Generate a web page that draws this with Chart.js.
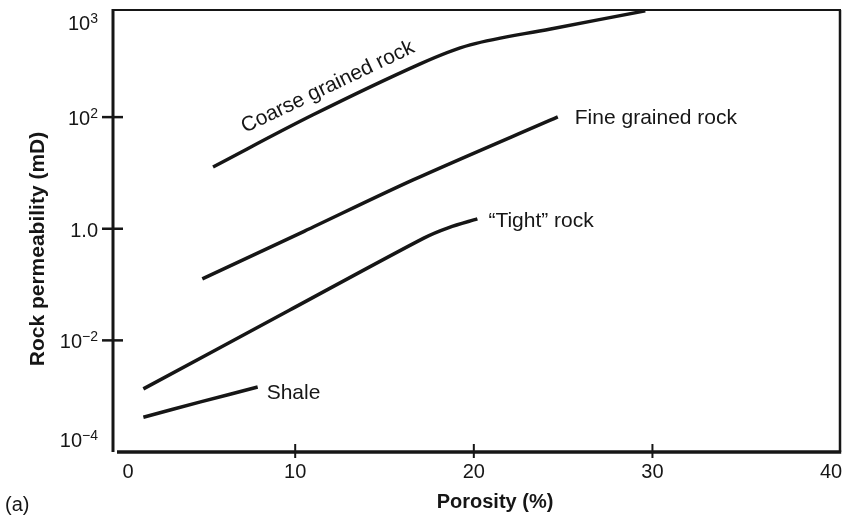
<!DOCTYPE html>
<html><head><meta charset="utf-8">
<script src="https://cdn.jsdelivr.net/npm/chart.js@4.4.1/dist/chart.umd.min.js"></script>
<style>html,body{margin:0;padding:0;background:#fff;}#wrap{width:850px;height:519px;position:relative;}</style>
</head><body><div id="wrap"><canvas id="c"></canvas></div>
<script>
// ---- data ----
const seriesNames = ["Coarse grained rock", "Fine grained rock", "\u201cTight\u201d rock", "Shale"];
const coarseX = [5.4, 11.0, 17.0, 19.8, 24.3, 29.6];
const coarseY = [12.8, 110, 900, 1970, 3800, 8000];
const fineX = [4.8, 10.5, 16.6, 24.7];
const fineY = [0.126, 0.9, 7.5, 101];
const tightX = [1.5, 9.7, 17.2, 18.6, 20.2];
const tightY = [0.00135, 0.035, 0.68, 1.05, 1.5];
const shaleX = [1.5, 4.7, 7.9];
const shaleY = [0.00042, 0.00079, 0.00146];
const xTickValues = [0, 10, 20, 30, 40];
const xTickLabels = ["0", "10", "20", "30", "40"];
const xMarkValues = [10, 20, 30];
const Y_MIN = 1e-4, Y_MAX = 8300, X_MIN = -0.2, X_MAX = 40.5;
const yTickValues = [1e-4, 1e-2, 1, 1e2, Y_MAX];
const yTickBase = ["10", "10", "1.0", "10", "10"];
const yTickExp = ["\u22124", "\u22122", "", "2", "3"];
const yMarkValues = [1e-2, 1, 1e2];
const xTitle = "Porosity (%)";
const yTitle = "Rock permeability (mD)";
const panelLabel = "(a)";

const FONT = "'Liberation Sans', Arial, Helvetica, sans-serif";
const INK = '#161616';
const toPts = (xs, ys) => xs.map((v, i) => ({x: v, y: ys[i]}));

const overlay = {
  id: 'overlay',
  afterDatasetsDraw(chart) {
    const {ctx, chartArea: a, scales: {x, y}} = chart;
    ctx.save();
    ctx.strokeStyle = INK; ctx.fillStyle = INK; ctx.lineCap = 'butt';
    const seg = (x1, y1, x2, y2, w) => { ctx.lineWidth = w; ctx.beginPath(); ctx.moveTo(x1, y1); ctx.lineTo(x2, y2); ctx.stroke(); };
    // frame
    seg(a.left, a.top, a.right + 1, a.top, 2);
    seg(a.right, a.top, a.right, a.bottom, 2.5);
    seg(a.left, a.top - 1, a.left, a.bottom, 3);
    seg(a.left + 4, a.bottom, a.right + 1.2, a.bottom, 3.5);
    // tick marks crossing the axes
    yMarkValues.forEach(v => { const p = y.getPixelForValue(v); seg(a.left - 11, p, a.left + 10, p, 2.5); });
    xMarkValues.forEach(v => { const p = x.getPixelForValue(v); seg(p, a.bottom - 8, p, a.bottom + 6, 2); });
    // y tick labels (with superscripts)
    ctx.textBaseline = 'alphabetic';
    yTickValues.forEach((v, i) => {
      let p = y.getPixelForValue(v);
      let base;
      if (p <= a.top + 1) base = a.top + 20;
      else if (p >= a.bottom - 1) base = a.bottom - 5;
      else base = p + 8;
      ctx.font = '20px ' + FONT;
      const wb = ctx.measureText(yTickBase[i]).width;
      ctx.font = '14px ' + FONT;
      const we = yTickExp[i] ? ctx.measureText(yTickExp[i]).width : 0;
      const right = a.left - 15;
      const left = right - wb - we;
      ctx.textAlign = 'left';
      ctx.font = '20px ' + FONT;
      ctx.fillText(yTickBase[i], left, base);
      if (yTickExp[i]) { ctx.font = '14px ' + FONT; ctx.fillText(yTickExp[i], left + wb, base - 7.5); }
    });
    // x tick labels
    ctx.font = '20px ' + FONT; ctx.textAlign = 'center';
    xTickValues.forEach((v, i) => {
      const p = Math.max(x.getPixelForValue(v), a.left + 15);
      ctx.fillText(xTickLabels[i], p, a.bottom + 26);
    });
    // axis titles
    ctx.font = 'bold 20px ' + FONT; ctx.textAlign = 'center'; ctx.textBaseline = 'middle';
    ctx.fillText(xTitle, 495, 502);
    ctx.font = 'bold 21px ' + FONT;
    ctx.save(); ctx.translate(38, 249); ctx.rotate(-Math.PI / 2); ctx.fillText(yTitle, 0, 0); ctx.restore();
    ctx.font = '20px ' + FONT; ctx.textAlign = 'left';
    ctx.fillText(panelLabel, 5, 505);
    // curve labels
    ctx.font = '21px ' + FONT; ctx.textBaseline = 'alphabetic'; ctx.textAlign = 'left';
    const endPx = (xs, ys) => ({px: x.getPixelForValue(xs[xs.length - 1]), py: y.getPixelForValue(ys[ys.length - 1])});
    let e = endPx(fineX, fineY); ctx.fillText(seriesNames[1], e.px + 17, e.py + 7);
    e = endPx(tightX, tightY); ctx.fillText(seriesNames[2], e.px + 11, e.py + 8);
    e = endPx(shaleX, shaleY); ctx.fillText(seriesNames[3], e.px + 9, e.py + 12);
    ctx.save(); ctx.translate(245, 133); ctx.rotate(-25.5 * Math.PI / 180); ctx.fillText(seriesNames[0], 0, 0); ctx.restore();
    ctx.restore();
  }
};

const mk = (label, xs, ys, t) => ({
  label, data: toPts(xs, ys), showLine: true, borderColor: INK, borderWidth: 3.5,
  pointRadius: 0, tension: t, fill: false, borderCapStyle: 'butt'
});

new Chart(document.getElementById('c'), {
  type: 'scatter',
  data: { datasets: [
    mk(seriesNames[0], coarseX, coarseY, 0.35),
    mk(seriesNames[1], fineX, fineY, 0.3),
    mk(seriesNames[2], tightX, tightY, 0.3),
    mk(seriesNames[3], shaleX, shaleY, 0.2)
  ]},
  options: {
    responsive: true, maintainAspectRatio: false, animation: false,
    layout: { padding: { top: 10, right: 10, left: 0, bottom: 0 } },
    plugins: { legend: { display: false }, tooltip: { enabled: false } },
    scales: {
      x: { type: 'linear', min: X_MIN, max: X_MAX,
        grid: { display: false }, border: { display: false }, ticks: { display: false },
        afterBuildTicks: s => { s.ticks = xTickValues.map(v => ({value: v})); },
        afterFit: s => { s.height = 67; } },
      y: { type: 'logarithmic', min: Y_MIN, max: Y_MAX,
        grid: { display: false }, border: { display: false }, ticks: { display: false },
        afterBuildTicks: s => { s.ticks = yTickValues.map(v => ({value: v})); },
        afterFit: s => { s.width = 113; } }
    }
  },
  plugins: [overlay]
});
</script></body></html>
